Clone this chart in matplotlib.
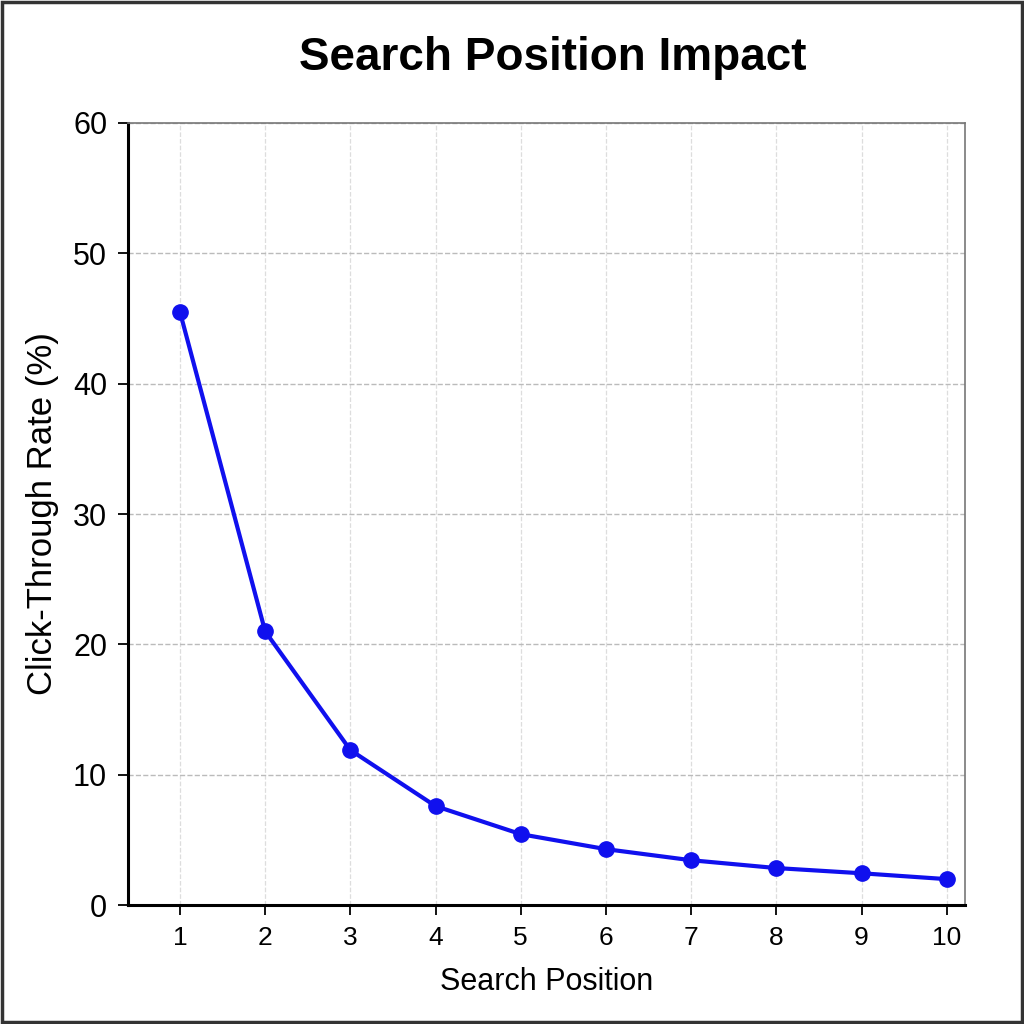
import matplotlib.pyplot as plt
from matplotlib.patches import Rectangle

# DATA
positions = [1, 2, 3, 4, 5, 6, 7, 8, 9, 10]
ctr = [45.5, 21.0, 11.9, 7.6, 5.45, 4.3, 3.45, 2.85, 2.45, 2.0]
y_ticks = [0, 10, 20, 30, 40, 50, 60]

plt.rcParams['font.family'] = ['Liberation Sans', 'DejaVu Sans']

fig = plt.figure(figsize=(10.24, 10.24), dpi=100)
ax = fig.add_axes([0.125, 0.116, 0.817, 0.764])

ax.plot(positions, ctr, color='#1010ee', lw=3.0, marker='o', ms=11, zorder=3)

ax.set_xlim(0.39, 10.21)
ax.set_ylim(0, 60)
ax.set_xticks(positions)
ax.set_yticks(y_ticks)
ax.tick_params(axis='x', labelsize=19, length=7, width=1.3, pad=8)
ax.tick_params(axis='y', labelsize=22, length=7, width=1.3, pad=8)

ax.grid(True, axis='y', ls='--', color='#bbbbbb', lw=1.0)
ax.grid(True, axis='x', ls='--', color='#dddddd', lw=0.9)

for s in ['left', 'bottom']:
    ax.spines[s].set_linewidth(2.2)
    ax.spines[s].set_color('black')
for s in ['top', 'right']:
    ax.spines[s].set_linewidth(1.2)
    ax.spines[s].set_color('#777777')

ax.set_xlabel('Search Position', fontsize=22, labelpad=12)
ax.set_ylabel('Click-Through Rate (%)', fontsize=25, labelpad=10)
fig.text(0.54, 0.943, 'Search Position Impact', fontsize=33, fontweight='bold',
         ha='center', va='center')

fig.patches.append(Rectangle((0.002, 0.002), 0.996, 0.996, transform=fig.transFigure,
                             fill=False, edgecolor='#333333', lw=2.5))

fig.savefig('out.png', dpi=100)
